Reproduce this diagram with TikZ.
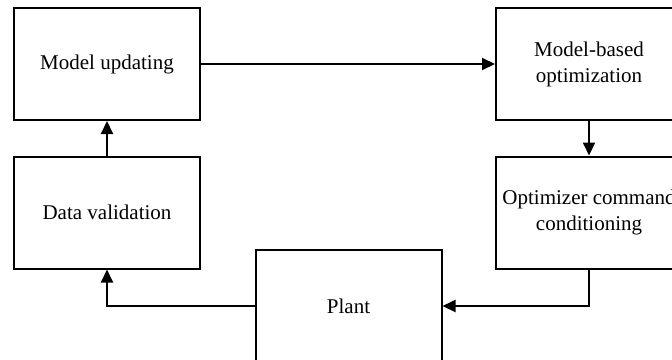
\documentclass[tikz,border=0pt]{standalone}
\usepackage{fontspec}
\setmainfont{Liberation Serif}
\usepackage{tikz}
\usetikzlibrary{arrows.meta,positioning}

\begin{document}
\begin{tikzpicture}[x=0.5pt,y=-0.5pt,->,>={Triangle[length=6.5pt,width=6pt]},
  line width=1pt,block/.style={rectangle,draw,fill=white,align=center,
  minimum width=93pt,minimum height=56pt,inner sep=0pt,
  font=\fontsize{10.5}{13}\selectfont}]
  \useasboundingbox (0,0) rectangle (672,359);
  \clip (0,0) rectangle (672,359);
  \node[block] (1) at (107,64) {Model updating};
  \node[block] (2) at (589,64) {Model-based\\optimization};
  \node[block] (3) at (107,212.5) {Data validation};
  \node[block] (4) at (589,212.5) {Optimizer command\\conditioning};
  \node[block] (5) at (348.5,306) {Plant};
  \path
    (1) edge (2)
    (2) edge (4)
    (3) edge (1);
  \draw (4.south) |- (5.east);
  \draw (5.west) -| (3.south);
\end{tikzpicture}
\end{document}
